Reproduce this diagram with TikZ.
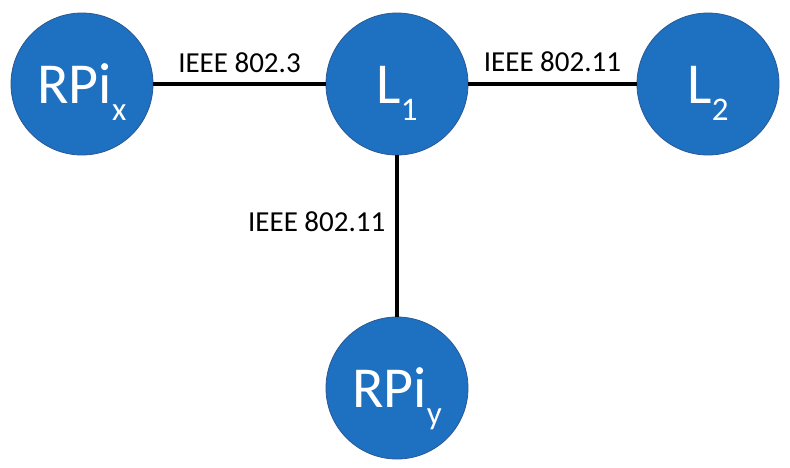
\documentclass[tikz,border=0pt]{standalone}
\usepackage{fontspec}
\setmainfont{Carlito}
\usetikzlibrary{positioning}
\definecolor{nodeblue}{RGB}{30,112,193}
\definecolor{nodeedge}{RGB}{41,88,150}
\newcommand{\lowidx}[1]{\raisebox{-0.3em}{\fontsize{33}{33}\selectfont #1}}
\tikzstyle{device} = [circle, minimum size = 142pt, inner sep = 0pt, draw = nodeedge, line width = 0.8pt, fill = nodeblue, text = white, text height = 38pt, text depth = 0pt, font = \fontsize{58}{58}\selectfont]
\tikzstyle{link} = [line width = 3.4pt, black]
\tikzstyle{proto} = [font = \fontsize{29}{29}\selectfont, inner sep = 0pt]

\begin{document}
\begin{tikzpicture}[node distance = 311pt]
        \useasboundingbox (-397pt,84pt) rectangle (393pt,-383pt);

        \node[device](L1){L\lowidx{1}};
        \node[device,right of =L1](L2){L\lowidx{2}};
        \node[device,left of =L1,xshift = -4pt](RPix){RPi\lowidx{x}};
        \node[device,below of =L1,yshift = 7pt](RPiy){RPi\lowidx{y}};

        \draw [link](RPix)--node[proto,above = 10pt]{IEEE 802.3}(L1);
        \draw [link](L1)--node[proto,above = 11pt]{IEEE 802.11}(L2);
        \draw [link](L1)--node[proto,left = 10pt,pos = 0.41]{IEEE 802.11}(RPiy);

\end{tikzpicture}
\end{document}
